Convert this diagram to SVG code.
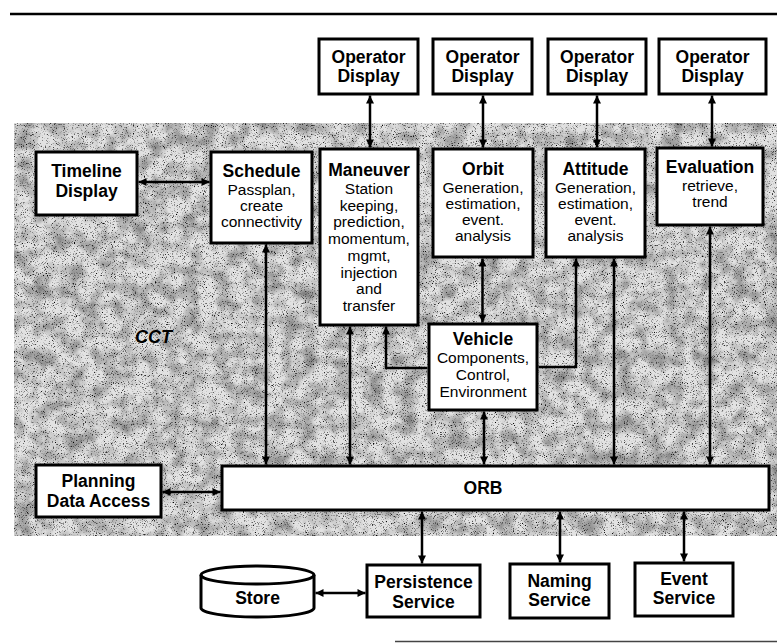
<svg xmlns="http://www.w3.org/2000/svg" width="777" height="643" viewBox="0 0 777 643">
<style>
.box{fill:#fff;stroke:#000;stroke-width:3}
.t{font-family:"Liberation Sans",Arial,sans-serif;font-weight:bold;font-size:17.5px;text-anchor:middle;fill:#000}
.b{font-family:"Liberation Sans",Arial,sans-serif;font-size:15.5px;text-anchor:middle;fill:#000}
.c{fill:none;stroke:#000;stroke-width:2.5}
.bi{marker-start:url(#ah);marker-end:url(#ah)}
.un{marker-end:url(#ah)}
</style>
<defs>
<marker id="ah" viewBox="0 0 10 10" refX="10" refY="5" markerWidth="9" markerHeight="8" markerUnits="userSpaceOnUse" orient="auto-start-reverse">
<path d="M0,0 L10,5 L0,10 z" fill="#000"/>
</marker>
<filter id="grain" x="0" y="0" width="1" height="1">
<feTurbulence type="fractalNoise" baseFrequency="0.9" numOctaves="3" seed="7"/>
<feColorMatrix type="matrix" values="0 0 0 0 0  0 0 0 0 0  0 0 0 0 0  3.5 0 0 0 -2.0"/>
<feComposite operator="in" in2="SourceGraphic"/>
</filter>
<filter id="mottle" x="0" y="0" width="1" height="1">
<feTurbulence type="fractalNoise" baseFrequency="0.06" numOctaves="3" seed="11"/>
<feColorMatrix type="matrix" values="0 0 0 0 0  0 0 0 0 0  0 0 0 0 0  0.8 0 0 0 -0.3"/>
<feComposite operator="in" in2="SourceGraphic"/>
</filter>
</defs>
<rect width="777" height="643" fill="#fff"/>
<g id="background">
<line x1="10" y1="14" x2="777" y2="14" stroke="#000" stroke-width="2.5"/>
<rect x="14" y="123" width="763" height="413" fill="#e2e2e2"/>
<rect x="14" y="123" width="763" height="413" fill="#b0b0b0" filter="url(#mottle)"/>
<rect x="14" y="123" width="763" height="413" fill="#000" filter="url(#grain)"/>
<line x1="395" y1="641.5" x2="777" y2="641.5" stroke="#444" stroke-width="1.5"/>
<text x="135" y="343" style="font-family:'Liberation Sans',Arial,sans-serif;font-weight:bold;font-style:italic;font-size:18px">CCT</text>
</g>
<g id="op1"><rect class="box" x="319" y="39" width="99" height="55"/><text class="t" x="368.5" y="63">Operator</text><text class="t" x="368.5" y="82">Display</text></g>
<g id="op2"><rect class="box" x="433" y="39" width="99" height="55"/><text class="t" x="482.5" y="63">Operator</text><text class="t" x="482.5" y="82">Display</text></g>
<g id="op3"><rect class="box" x="548" y="39" width="98" height="55"/><text class="t" x="597" y="63">Operator</text><text class="t" x="597" y="82">Display</text></g>
<g id="op4"><rect class="box" x="659" y="39" width="107" height="55"/><text class="t" x="712.5" y="63">Operator</text><text class="t" x="712.5" y="82">Display</text></g>
<g id="timeline"><rect class="box" x="36" y="152" width="101" height="63"/><text class="t" x="86.5" y="177">Timeline</text><text class="t" x="86.5" y="197">Display</text></g>
<g id="schedule"><rect class="box" x="211" y="152" width="101" height="91"/><text class="t" x="261.5" y="177">Schedule</text><text class="b" x="261.5" y="195">Passplan,</text><text class="b" x="261.5" y="211">create</text><text class="b" x="261.5" y="227">connectivity</text></g>
<g id="maneuver"><rect class="box" x="320" y="149" width="98" height="176"/><text class="t" x="369" y="176">Maneuver</text><text class="b" x="369" y="194">Station</text><text class="b" x="369" y="210.5">keeping,</text><text class="b" x="369" y="227">prediction,</text><text class="b" x="369" y="244">momentum,</text><text class="b" x="369" y="260.5">mgmt,</text><text class="b" x="369" y="277.5">injection</text><text class="b" x="369" y="294">and</text><text class="b" x="369" y="311">transfer</text></g>
<g id="orbit"><rect class="box" x="433" y="149" width="100" height="108"/><text class="t" x="483" y="175">Orbit</text><text class="b" x="483" y="193">Generation,</text><text class="b" x="483" y="209">estimation,</text><text class="b" x="483" y="225">event.</text><text class="b" x="483" y="241">analysis</text></g>
<g id="attitude"><rect class="box" x="546" y="149" width="99" height="108"/><text class="t" x="595.5" y="175">Attitude</text><text class="b" x="595.5" y="193">Generation,</text><text class="b" x="595.5" y="209">estimation,</text><text class="b" x="595.5" y="225">event.</text><text class="b" x="595.5" y="241">analysis</text></g>
<g id="evaluation"><rect class="box" x="657" y="148" width="106" height="77"/><text class="t" x="710" y="173">Evaluation</text><text class="b" x="710" y="191">retrieve,</text><text class="b" x="710" y="207">trend</text></g>
<g id="vehicle"><rect class="box" x="429" y="324" width="108" height="86"/><text class="t" x="483" y="345">Vehicle</text><text class="b" x="483" y="363">Components,</text><text class="b" x="483" y="380">Control,</text><text class="b" x="483" y="397">Environment</text></g>
<g id="planning"><rect class="box" x="36" y="465" width="125" height="52"/><text class="t" x="98.5" y="487">Planning</text><text class="t" x="98.5" y="507">Data Access</text></g>
<g id="orb"><rect class="box" x="222" y="466" width="547" height="44"/><text class="t" x="483" y="494">ORB</text></g>
<g id="persistence"><rect class="box" x="367" y="565" width="113" height="52"/><text class="t" x="423.5" y="588">Persistence</text><text class="t" x="423.5" y="608">Service</text></g>
<g id="naming"><rect class="box" x="510" y="564" width="99" height="54"/><text class="t" x="559.5" y="587">Naming</text><text class="t" x="559.5" y="606">Service</text></g>
<g id="event"><rect class="box" x="635" y="563" width="98" height="53"/><text class="t" x="684" y="585">Event</text><text class="t" x="684" y="604">Service</text></g>
<g id="store"><path class="box" d="M201,575 A56.5,9 0 0 1 314,575 L314,608 A56.5,9 0 0 1 201,608 Z"/><path d="M201,575 A56.5,9 0 0 0 314,575" fill="none" stroke="#000" stroke-width="3"/><text class="t" x="257.5" y="604">Store</text></g>
<g id="connectors">
<path class="c bi" d="M370,95.5 V147.5"/>
<path class="c bi" d="M483,95.5 V147.5"/>
<path class="c bi" d="M597,95.5 V147.5"/>
<path class="c bi" d="M712,95.5 V146.5"/>
<path class="c bi" d="M138.5,182 H209.5"/>
<path class="c bi" d="M266,244.5 V464.5"/>
<path class="c bi" d="M350,326.5 V464.5"/>
<path class="c un" d="M427.5,368 H386 V326.5"/>
<path class="c bi" d="M482.5,258.5 V322.5"/>
<path class="c un" d="M538.5,367 H576 V258.5"/>
<path class="c bi" d="M484,411.5 V464.5"/>
<path class="c bi" d="M614,258.5 V464.5"/>
<path class="c bi" d="M710,226.5 V464.5"/>
<path class="c bi" d="M162.5,492 H220.5"/>
<path class="c bi" d="M422,511.5 V563.5"/>
<path class="c bi" d="M560,511.5 V562.5"/>
<path class="c bi" d="M684,511.5 V561.5"/>
<path class="c bi" d="M315.5,593 H365.5"/>
</g>
</svg>
